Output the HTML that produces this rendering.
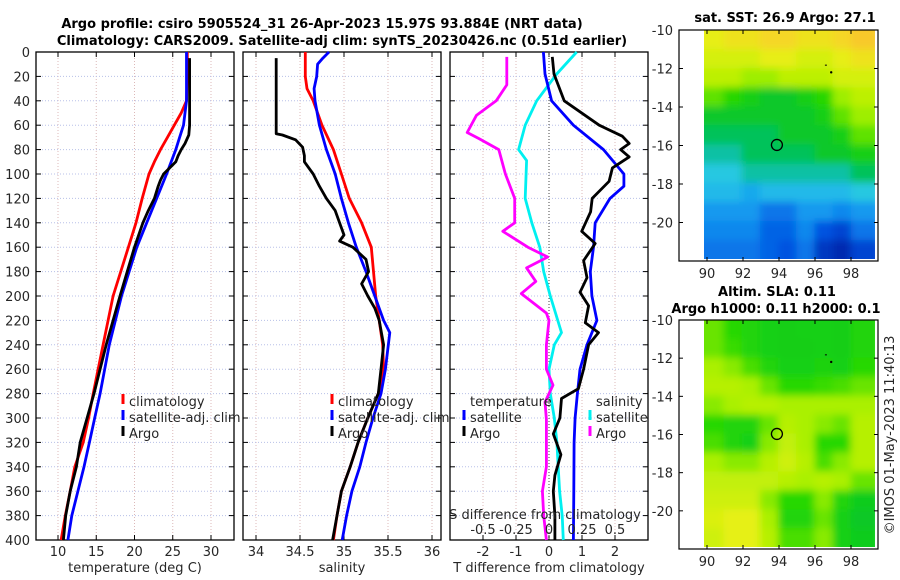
<!DOCTYPE html>
<html><head><meta charset="utf-8"><style>
body{margin:0;background:#fff;}
svg{display:block;font-family:"DejaVu Sans","Liberation Sans",sans-serif;}
.t{font-size:13px;fill:#262626;}
.b{font-size:13px;font-weight:bold;fill:#000;}
</style></head><body>
<svg id="c" width="900" height="580" viewBox="0 0 900 580" xmlns="http://www.w3.org/2000/svg">
<defs>
<filter id="blur" filterUnits="userSpaceOnUse" x="640" y="0" width="260" height="580"><feGaussianBlur stdDeviation="4"/></filter>
<clipPath id="clip1"><rect x="704" y="30" width="171" height="229"/></clipPath>
<clipPath id="clip2"><rect x="704" y="320" width="171" height="227"/></clipPath>
</defs>
<text class="b" x="322" y="28" text-anchor="middle">Argo profile: csiro 5905524_31 26-Apr-2023 15.97S 93.884E (NRT data)</text>
<text class="b" x="342" y="45" text-anchor="middle">Climatology: CARS2009. Satellite-adj clim: synTS_20230426.nc (0.51d earlier)</text>
<text class="b" x="785" y="22" text-anchor="middle">sat. SST: 26.9 Argo: 27.1</text>
<text class="b" x="777" y="296" text-anchor="middle">Altim. SLA: 0.11</text>
<text class="b" x="776" y="313" text-anchor="middle">Argo h1000: 0.11 h2000: 0.1</text>
<text class="t" transform="translate(894,435) rotate(-90)" text-anchor="middle">©IMOS 01-May-2023 11:40:13</text>
<g id="root"></g>
</svg>
<script>
// ---- profile data ----
const climTDepth=[0,20,40,50,60,70,80,90,100,120,140,160,200,240,280,300,320,340,360,380,400];
const climT=[26.9,26.9,26.8,26.1,25.2,24.3,23.4,22.6,21.9,21.0,20.2,19.2,17.2,15.9,14.6,14.0,13.3,12.2,11.6,10.95,10.4];
const satTDepth=[0,20,40,60,70,80,90,100,120,140,160,200,240,280,300,320,340,360,380,400];
const satT=[26.8,26.8,26.8,26.4,25.9,25.4,24.8,24.2,22.9,21.6,20.3,18.3,16.7,15.5,14.8,14.1,13.4,12.6,11.8,11.3];
const argoTDepth=[5,20,40,60,68,75,80,85,90,95,100,105,110,120,130,140,160,200,240,280,300,320,340,360,380,400];
const argoT=[27.2,27.2,27.2,27.2,27.1,26.6,26.1,25.7,25.4,24.6,23.8,23.4,23.1,22.6,21.8,21.1,20.0,18.1,16.3,14.7,13.8,12.9,12.4,11.6,11.0,10.7];

const climSDepth=[0,20,30,40,60,80,100,120,140,160,200,220,240,260,280,300,320,340,360,380,400];
const climS=[34.56,34.56,34.58,34.65,34.75,34.88,34.97,35.06,35.2,35.31,35.36,35.4,35.44,35.45,35.39,35.27,35.16,35.07,34.97,34.92,34.88];
const satSDepth=[0,5,10,20,30,40,60,80,100,120,140,160,180,200,220,230,260,280,300,320,340,360,380,400];
const satS=[34.83,34.76,34.7,34.69,34.66,34.67,34.72,34.8,34.9,34.97,35.05,35.14,35.25,35.35,35.45,35.52,35.47,35.42,35.33,35.25,35.18,35.09,35.03,34.98];
const argoSDepth=[5,67,68,72,78,85,90,100,110,120,130,140,150,155,160,170,180,190,200,210,220,240,260,280,300,320,340,360,380,400];
const argoS=[34.23,34.23,34.3,34.45,34.53,34.55,34.55,34.65,34.72,34.8,34.9,34.95,35.0,34.95,35.1,35.25,35.28,35.2,35.27,35.35,35.4,35.45,35.42,35.39,35.27,35.16,35.07,34.97,34.92,34.87];

const dTsatDepth=[0,18,40,60,80,100,110,120,140,160,180,200,220,240,260,280,300,320,360,400];
const dTsat=[-0.17,-0.12,0.08,0.74,1.65,2.27,2.27,1.85,1.4,1.35,1.25,1.3,1.45,1.15,0.94,0.86,0.79,0.76,0.75,0.74];
const dTargoDepth=[4,18,40,60,69,75,80,86,95,106,120,131,147,157,171,185,197,208,222,230,240,260,276,284,300,313,330,347,360,380,400];
const dTargo=[0.1,0.15,0.46,1.52,2.22,2.43,2.17,2.43,1.92,1.82,1.31,1.26,0.99,1.4,1.05,1.15,0.94,1.2,1.1,1.5,1.2,1.05,0.89,0.38,0.33,0.13,0.36,0.18,0.13,0.18,0.18];
const dSsatDepth=[0,18,40,60,80,89,120,140,160,180,200,230,240,260,280,300,320,340,360,380,400];
const dSsat=[0.21,0.058,-0.093,-0.18,-0.23,-0.17,-0.18,-0.13,-0.07,-0.04,0.01,0.095,0.04,0.0,0.01,0.04,0.06,0.07,0.08,0.1,0.108];
const dSargoDepth=[4,27,40,52,66,71,80,100,120,140,147,160,168,177,188,198,214,220,240,260,273,287,301,320,340,360,380,400];
const dSargo=[-0.32,-0.32,-0.4,-0.55,-0.62,-0.53,-0.38,-0.33,-0.26,-0.26,-0.35,-0.16,-0.01,-0.17,-0.1,-0.21,-0.02,0.0,-0.02,-0.02,0.03,-0.03,-0.02,-0.02,-0.02,-0.05,-0.04,-0.02];

const depthTicks=[0,20,40,60,80,100,120,140,160,180,200,220,240,260,280,300,320,340,360,380,400];
const tempTicks=[10,15,20,25,30];
const salTicks=[34,34.5,35,35.5,36];
const tdiffTicks=[-2,-1,0,1,2];
const sdiffTicks=[-0.5,-0.25,0,0.25,0.5];
const sdiffLabels=["-0.5","-0.25","0","0.25","0.5"];
const lonTicks=[90,92,94,96,98];
const latTicks=[-10,-12,-14,-16,-18,-20];

// ---- map data (1-degree cells, rows from -10.5 to -21.5, cols 90..98) ----
const sstGrid=[
[27.6,27.7,27.7,27.8,27.8,27.7,27.7,27.8,27.9],
[27.5,27.5,27.5,27.6,27.6,27.5,27.5,27.6,27.7],
[27.4,27.4,27.3,27.3,27.4,27.4,27.4,27.5,27.5],
[27.2,27.1,27.0,26.9,26.9,27.0,27.1,27.3,27.4],
[26.9,26.9,26.9,26.9,26.9,26.9,27.0,27.2,27.3],
[26.8,26.8,26.8,26.8,26.9,26.9,26.9,27.0,27.2],
[26.7,26.7,26.8,26.8,26.8,26.8,26.9,26.9,27.0],
[26.6,26.6,26.7,26.7,26.7,26.7,26.7,26.7,26.8],
[26.5,26.5,26.4,26.5,26.5,26.5,26.5,26.5,26.6],
[26.3,26.3,26.3,26.1,26.1,26.3,26.3,26.2,26.3],
[26.2,26.2,26.2,26.0,26.0,26.2,25.9,25.8,26.1],
[26.1,26.1,26.1,26.0,25.9,26.1,25.7,25.6,25.8]];
const slaGrid=[
[.08,.06,.05,.04,.035,.04,.04,.035,.05],
[.08,.065,.05,.04,.035,.035,.04,.035,.05],
[.10,.09,.07,.05,.04,.04,.045,.04,.06],
[.11,.11,.10,.08,.06,.06,.065,.07,.08],
[.09,.10,.11,.11,.10,.10,.10,.10,.10],
[.06,.05,.05,.08,.11,.10,.09,.08,.11],
[.07,.05,.04,.09,.12,.10,.06,.06,.11],
[.10,.09,.09,.11,.13,.11,.07,.09,.11],
[.12,.12,.12,.12,.11,.10,.11,.10,.08],
[.13,.13,.13,.09,.06,.06,.09,.05,.03],
[.14,.15,.15,.10,.05,.05,.08,.04,.02],
[.13,.15,.15,.11,.07,.07,.09,.04,.03]];
const argoLon=93.884, argoLat=-15.97;

const NS="http://www.w3.org/2000/svg";
const root=document.getElementById('root');
function el(tag,attrs,parent){const e=document.createElementNS(NS,tag);for(const k in attrs)e.setAttribute(k,attrs[k]);(parent||root).appendChild(e);return e;}

const yD=d=>52+d*1.22;
const xT=v=>58+(v-10)*7.65;
const xS=v=>256+(v-34)*88;
const xDT=v=>549+v*33;
const xDS=v=>549+v*132;

function panel(x0,x1,name,xTicks,xf,labels,xlabel){
  const g=el('g',{});
  
  
  xTicks.forEach(v=>{el('line',{x1:xf(v),x2:xf(v),y1:52,y2:540,stroke:'#dcb8b8','stroke-width':1,'stroke-dasharray':'1,2'},g);});
  depthTicks.forEach(d=>{el('line',{x1:x0,x2:x1,y1:yD(d),y2:yD(d),stroke:'#b8c0e8','stroke-width':1,'stroke-dasharray':'1,2'},g);
    el('line',{x1:x0,x2:x0+5,y1:yD(d),y2:yD(d),stroke:'#000'},g);el('line',{x1:x1-5,x2:x1,y1:yD(d),y2:yD(d),stroke:'#000'},g);});
  xTicks.forEach((v,i)=>{const t=el('text',{x:xf(v),y:556,'text-anchor':'middle',class:'t'},g);t.textContent=labels?labels[i]:String(v);
    el('line',{x1:xf(v),x2:xf(v),y1:535,y2:540,stroke:'#000'},g);el('line',{x1:xf(v),x2:xf(v),y1:52,y2:57,stroke:'#000'},g);});
  const xl=el('text',{x:(x0+x1)/2,y:572,'text-anchor':'middle',class:'t'},g);xl.textContent=xlabel;
  
  
  el('rect',{x:x0,y:52,width:x1-x0,height:488,fill:'none',stroke:'#000','stroke-width':1.3},g);
  return g;
}
function series(depths,vals,xf,color,name,parent){
  let d='';vals.forEach((v,i)=>{d+=(i?'L':'M')+xf(v).toFixed(1)+','+yD(depths[i]).toFixed(1);});
  const p=el('path',{d:d,fill:'none',stroke:color,'stroke-width':2.8,'stroke-linejoin':'round'},parent);
  
  
}
function legend(x,y,color,label,parent,name){
  el('line',{x1:x,x2:x,y1:y-12,y2:y-2,stroke:color,'stroke-width':3},parent);
  const t=el('text',{x:x+6,y:y,class:'t'},parent);t.textContent=label;
  
  
}

// panel 1
const p1=panel(36,234,'temperature-panel',tempTicks,xT,null,'temperature (deg C)');
depthTicks.forEach(d=>{const t=el('text',{x:30,y:yD(d)+5,'text-anchor':'end',class:'t'});t.textContent=d;});
series(climTDepth,climT,xT,'#ff0000','climatology-temperature-line',p1);
series(satTDepth,satT,xT,'#0000ff','satellite-temperature-line',p1);
series(argoTDepth,argoT,xT,'#000000','argo-temperature-line',p1);
legend(123,406,'#ff0000','climatology',p1,'legend-climatology');
legend(123,422,'#0000ff','satellite-adj. clim',p1,'legend-satellite-adj');
legend(123,438,'#000000','Argo',p1,'legend-argo');

// panel 2
const p2=panel(243,441,'salinity-panel',salTicks,xS,null,'salinity');
series(climSDepth,climS,xS,'#ff0000','climatology-salinity-line',p2);
series(satSDepth,satS,xS,'#0000ff','satellite-salinity-line',p2);
series(argoSDepth,argoS,xS,'#000000','argo-salinity-line',p2);
legend(332,406,'#ff0000','climatology',p2,'legend-climatology-2');
legend(332,422,'#0000ff','satellite-adj. clim',p2,'legend-satellite-adj-2');
legend(332,438,'#000000','Argo',p2,'legend-argo-2');

// panel 3
const p3=panel(450,648,'difference-panel',tdiffTicks,xDT,null,'T difference from climatology');
el('line',{x1:xDT(0),x2:xDT(0),y1:52,y2:540,stroke:'#444','stroke-width':1,'stroke-dasharray':'1,2'},p3);
series(dSsatDepth,dSsat,xDS,'#00f0f0','satellite-salinity-diff-line',p3);
series(dSargoDepth,dSargo,xDS,'#ff00ff','argo-salinity-diff-line',p3);
series(dTsatDepth,dTsat,xDT,'#0000ff','satellite-temperature-diff-line',p3);
series(dTargoDepth,dTargo,xDT,'#000000','argo-temperature-diff-line',p3);
const lt=el('text',{x:470,y:406,class:'t'},p3);lt.textContent='temperature';
const ls=el('text',{x:596,y:406,class:'t'},p3);ls.textContent='salinity';
legend(464,422,'#0000ff','satellite',p3,'legend-t-satellite');
legend(464,438,'#000000','Argo',p3,'legend-t-argo');
legend(590,422,'#00f0f0','satellite',p3,'legend-s-satellite');
legend(590,438,'#ff00ff','Argo',p3,'legend-s-argo');
const sl=el('text',{x:545,y:519,'text-anchor':'middle',class:'t'},p3);sl.textContent='S difference from climatology';


sdiffTicks.forEach((v,i)=>{const t=el('text',{x:xDS(v),y:534,'text-anchor':'middle',class:'t'},p3);t.textContent=sdiffLabels[i];});

// ---- maps ----
const stops=[[0,[0,32,160]],[0.15,[0,80,224]],[0.3,[16,150,240]],[0.42,[40,200,230]],[0.47,[0,192,150]],[0.52,[0,196,50]],[0.62,[40,216,0]],[0.7,[170,240,0]],[0.8,[230,240,20]],[0.9,[248,210,40]],[1,[248,170,50]]];
function cmap(t){t=Math.max(0,Math.min(1,t));for(let i=1;i<stops.length;i++){if(t<=stops[i][0]){const a=stops[i-1],b=stops[i];const f=(t-a[0])/(b[0]-a[0]);const c=a[1].map((v,k)=>Math.round(v+(b[1][k]-v)*f));return 'rgb('+c+')';}}return 'rgb('+stops[stops.length-1][1]+')';}

function drawMap(top,bottom,grid,norm,name,clip){
  const lonX=lon=>707+(lon-90)*18;
  const latY=lat=>top+(-10-lat)*(bottom-top)/12;
  const g=el('g',{});
  
  
  el('rect',{x:679,y:top,width:199,height:bottom-top,fill:'#fff'},g);
  const cg=el('g',{'clip-path':'url(#'+clip+')'},g);
  const bg=el('g',{filter:'url(#blur)'},cg);
  const nr=grid.length,nc=grid[0].length,cw=(99-89.9)/nc,rh=11.9/nr;
  grid.forEach((row,j)=>row.forEach((v,i)=>{
    let x=lonX(89.9+i*cw),w=cw*18,y=latY(-10-j*rh),h=rh*(bottom-top)/12;
    if(i===0){x-=12;w+=12;} if(i===nc-1)w+=12; if(j===0){y-=12;h+=12;} if(j===nr-1)h+=12;
    const r=el('rect',{x:x.toFixed(1),y:y.toFixed(1),width:(w+0.6).toFixed(1),height:(h+0.6).toFixed(1),fill:cmap(norm(v))},bg);
    
    
  }));
  const mk=el('circle',{cx:lonX(argoLon),cy:latY(argoLat),r:5.5,fill:'none',stroke:'#000','stroke-width':1.3},g);
  
  
  el('circle',{cx:lonX(96.9),cy:latY(-12.2),r:1.2,fill:'#000'},g);
  el('rect',{x:lonX(96.55),y:latY(-11.8),width:2,height:1,fill:'#000'},g);
  el('rect',{x:679,y:top,width:199,height:bottom-top,fill:'none',stroke:'#000','stroke-width':1.2},g);
  latTicks.forEach(v=>{const y=latY(v);el('line',{x1:679,x2:683,y1:y,y2:y,stroke:'#000'},g);el('line',{x1:874,x2:878,y1:y,y2:y,stroke:'#000'},g);
    const t=el('text',{x:673,y:y+5,'text-anchor':'end',class:'t'},g);t.textContent=String(v);});
  lonTicks.forEach(v=>{const x=lonX(v);el('line',{x1:x,x2:x,y1:bottom-4,y2:bottom,stroke:'#000'},g);el('line',{x1:x,x2:x,y1:top,y2:top+4,stroke:'#000'},g);
    const t=el('text',{x:x,y:bottom+17,'text-anchor':'middle',class:'t'},g);t.textContent=v;});
}
drawMap(30,261,sstGrid,v=>(v-25.5)/2.6,'sst-map','clip1');
drawMap(320,549,slaGrid,v=>v*2+0.5,'sla-map','clip2');
</script>
</body></html>
